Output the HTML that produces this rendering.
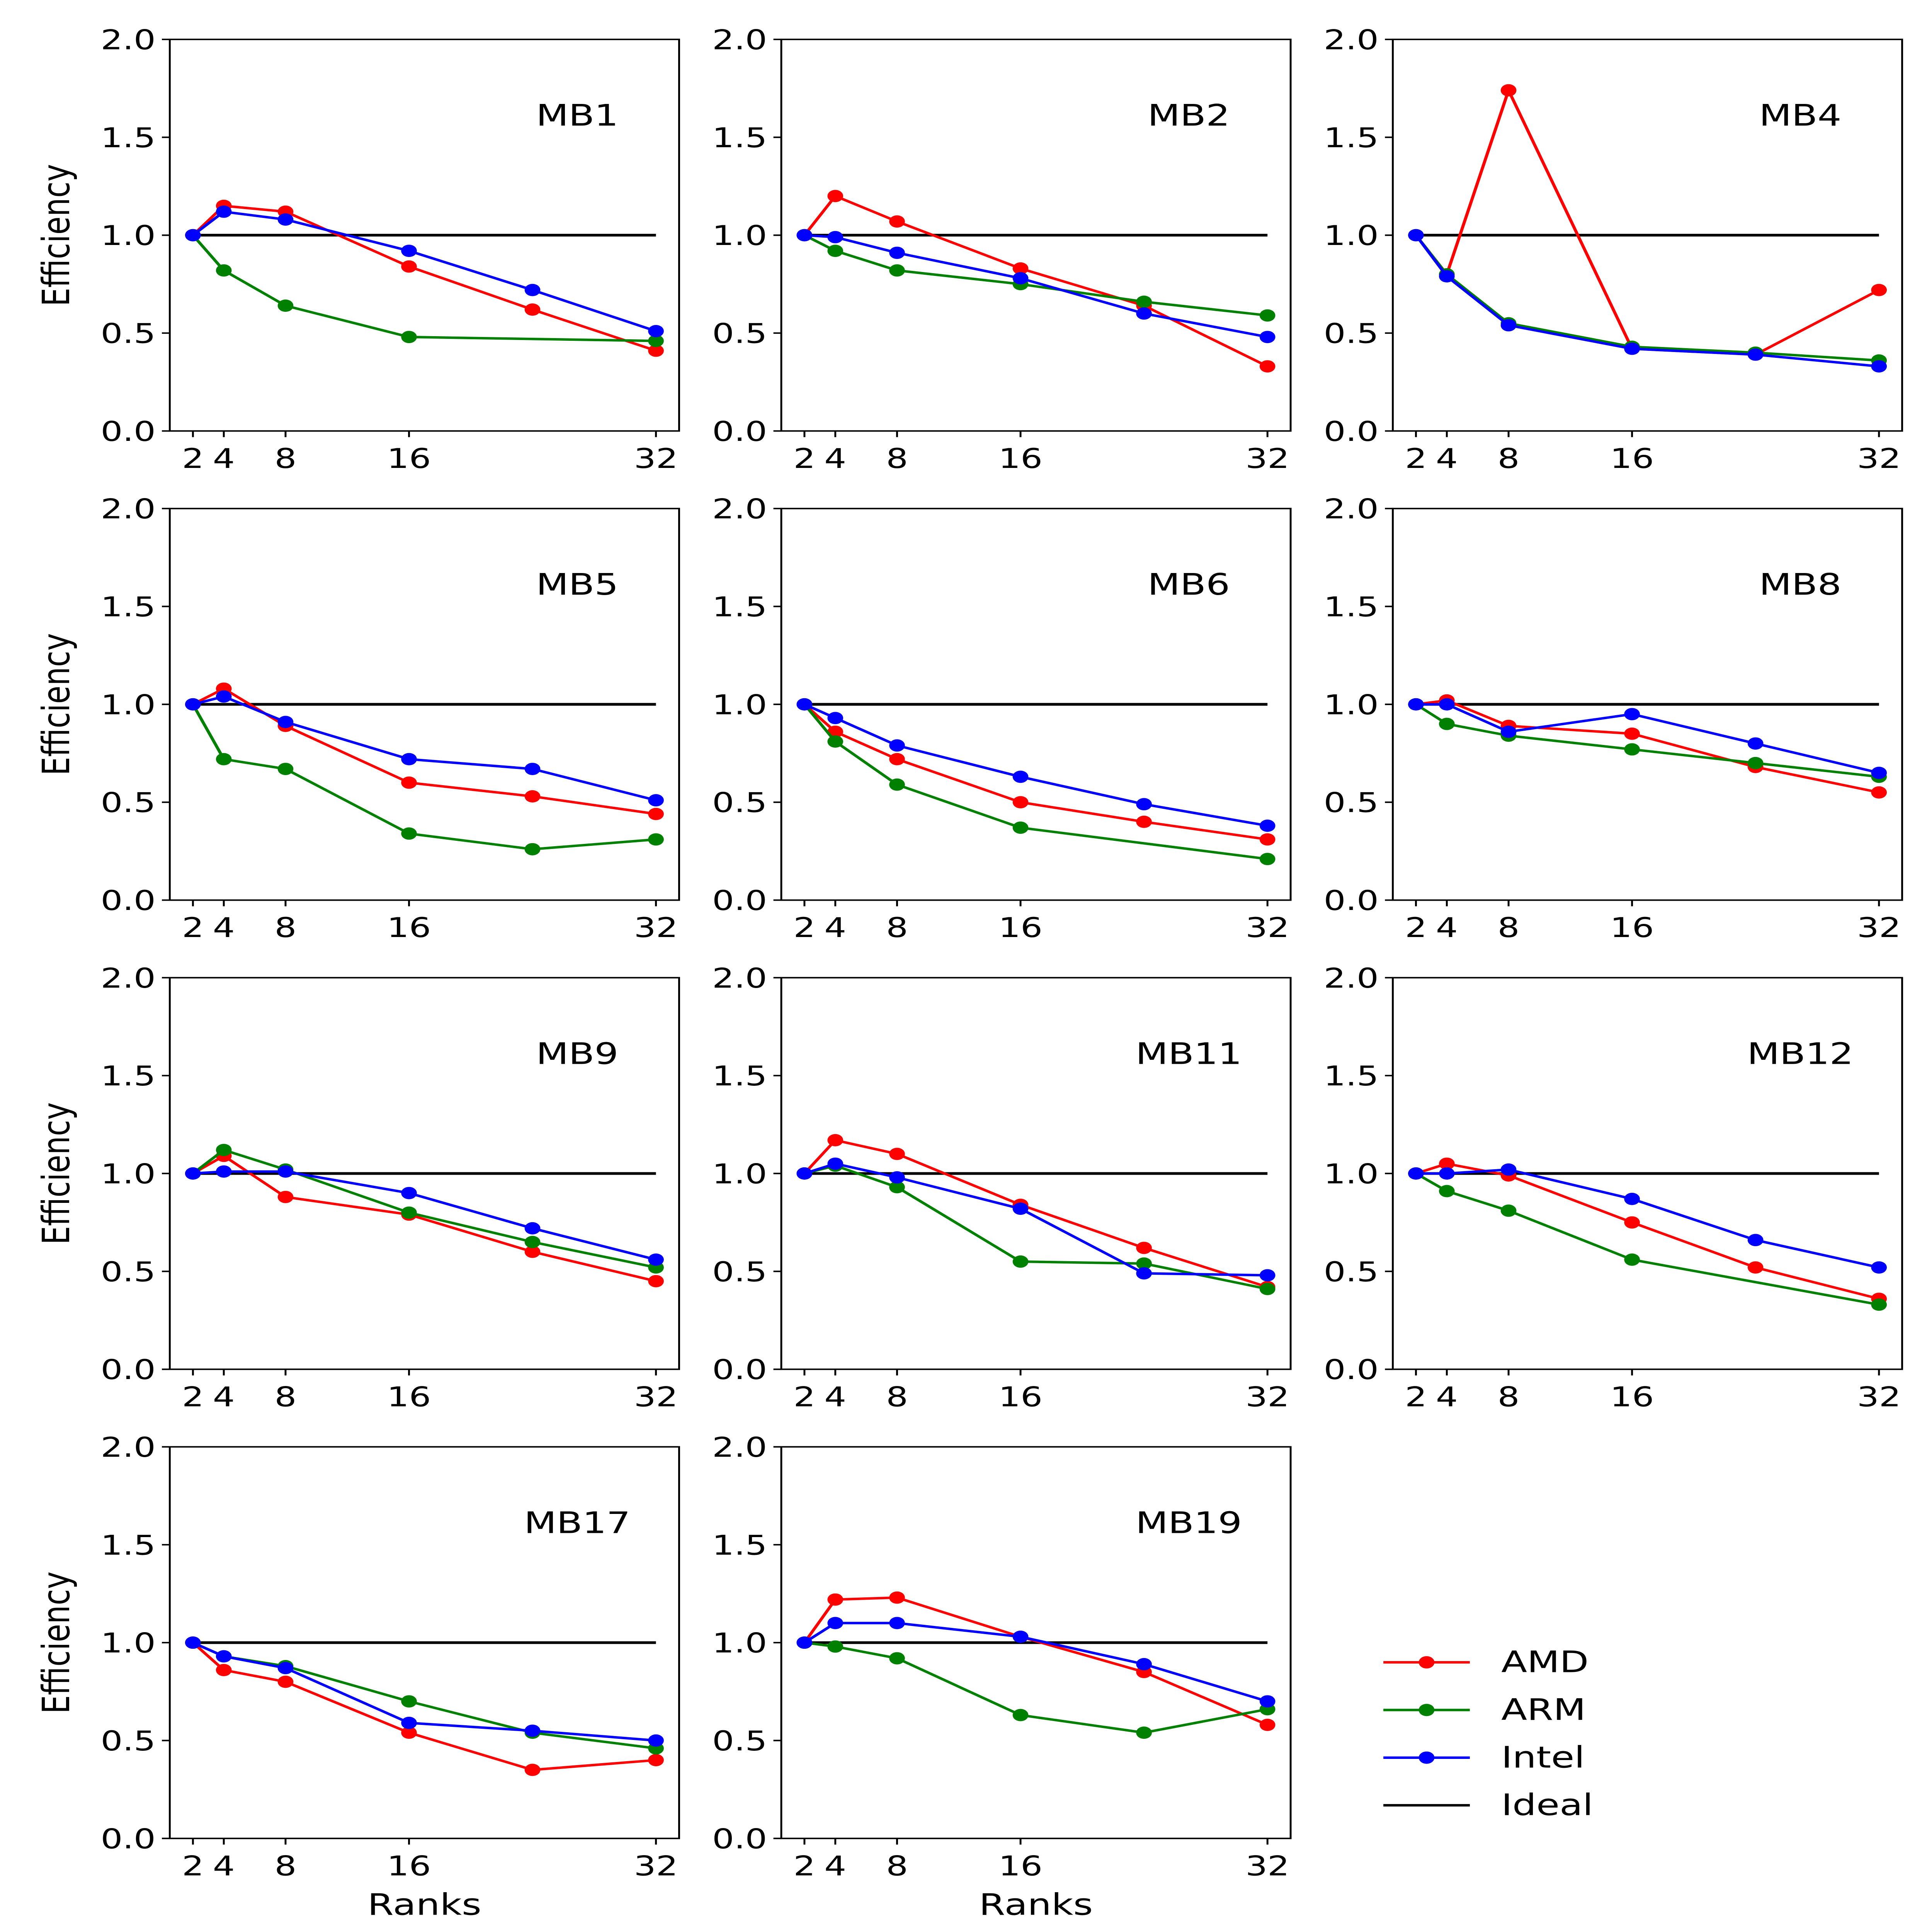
<!DOCTYPE html>
<html><head><meta charset="utf-8"><meta name="viewport" content="width=6225"><style>
html,body{margin:0;padding:0;background:#fff;width:100%;height:100%;overflow:hidden}
svg{display:block;position:fixed;left:0;top:0;width:100vw;height:100vh;font-family:"DejaVu Sans","Liberation Sans",sans-serif}
</style></head><body>
<svg id="fig" viewBox="0 0 1229 1569" preserveAspectRatio="none" xmlns="http://www.w3.org/2000/svg"></svg>
<script>
const ranks = [2,4,8,16,24,32];
const xTicks = [2,4,8,16,32];
const yTicks = [0,0.5,1.0,1.5,2.0];
const yTickLabels = ["0.0","0.5","1.0","1.5","2.0"];
const panelNames = ["MB1","MB2","MB4","MB5","MB6","MB8","MB9","MB11","MB12","MB17","MB19"];
const amd = [
 [1,1.15,1.12,0.84,0.62,0.41],[1,1.2,1.07,0.83,0.64,0.33],[1,0.8,1.74,0.42,0.39,0.72],
 [1,1.08,0.89,0.6,0.53,0.44],[1,0.86,0.72,0.5,0.4,0.31],[1,1.02,0.89,0.85,0.68,0.55],
 [1,1.09,0.88,0.79,0.6,0.45],[1,1.17,1.1,0.84,0.62,0.42],[1,1.05,0.99,0.75,0.52,0.36],
 [1,0.86,0.8,0.54,0.35,0.4],[1,1.22,1.23,1.03,0.85,0.58]];
const arm = [
 [1,0.82,0.64,0.48,null,0.46],[1,0.92,0.82,0.75,0.66,0.59],[1,0.8,0.55,0.43,0.4,0.36],
 [1,0.72,0.67,0.34,0.26,0.31],[1,0.81,0.59,0.37,null,0.21],[1,0.9,0.84,0.77,0.7,0.63],
 [1,1.12,1.02,0.8,0.65,0.52],[1,1.04,0.93,0.55,0.54,0.41],[1,0.91,0.81,0.56,null,0.33],
 [1,0.93,0.88,0.7,0.54,0.46],[1,0.98,0.92,0.63,0.54,0.66]];
const intel = [
 [1,1.12,1.08,0.92,0.72,0.51],[1,0.99,0.91,0.78,0.6,0.48],[1,0.79,0.54,0.42,0.39,0.33],
 [1,1.04,0.91,0.72,0.67,0.51],[1,0.93,0.79,0.63,0.49,0.38],[1,1.0,0.86,0.95,0.8,0.65],
 [1,1.01,1.01,0.9,0.72,0.56],[1,1.05,0.98,0.82,0.49,0.48],[1,1.0,1.02,0.87,0.66,0.52],
 [1,0.93,0.87,0.59,0.55,0.5],[1,1.1,1.1,1.03,0.89,0.7]];
const seriesNames = ["AMD","ARM","Intel"];
const seriesColors = ["#ff0000","#008000","#0000ff"];
const seriesData = [amd, arm, intel];

const NS="http://www.w3.org/2000/svg";
const svg=document.getElementById('fig');
function mk(tag,attrs,parent){const e=document.createElementNS(NS,tag);for(const k in attrs)e.setAttribute(k,attrs[k]);(parent||svg).appendChild(e);return e;}
const colX=[108,497,886], rowY=[32,413,794,1175], W=324, H=318;
panelNames.forEach((name,p)=>{
  const L=colX[p%3], T=rowY[Math.floor(p/3)];
  const sx=v=>L+(v-0.5)/33*W, sy=v=>T+H-v/2*H;
  const g=mk('g',{});
  
  
  yTicks.forEach((t,i)=>{
    const y=sy(t);
    mk('line',{x1:L-5,x2:L,y1:y,y2:y,stroke:'#000','stroke-width':1.2},g);
    const tx=mk('text',{x:L-9,y:y+8,'text-anchor':'end','font-size':22},g);
    tx.textContent=yTickLabels[i];
    
    
  });
  xTicks.forEach(t=>{
    const x=sx(t);
    mk('line',{x1:x,x2:x,y1:T+H,y2:T+H+5,stroke:'#000','stroke-width':1.2},g);
    const tx=mk('text',{x:x,y:T+H+30,'text-anchor':'middle','font-size':22},g);
    tx.textContent=String(t);
    
    
  });
  const ideal=mk('line',{x1:sx(2),x2:sx(32),y1:sy(1),y2:sy(1),stroke:'#000','stroke-width':2.2},g);
  
  
  seriesData.forEach((arr,s)=>{
    const vals=arr[p];
    const pts=[];ranks.forEach((r,i)=>{if(vals[i]!=null)pts.push([sx(r),sy(vals[i])]);});
    const pl=mk('polyline',{points:pts.map(q=>q.join(',')).join(' '),fill:'none',stroke:seriesColors[s],'stroke-width':2},g);
    
    
    pts.forEach(q=>{
      const c=mk('circle',{cx:q[0],cy:q[1],r:5,fill:seriesColors[s]},g);
      
      
    });
  });
  const fr=mk('rect',{x:L,y:T,width:W,height:H,fill:'none',stroke:'#000','stroke-width':1.2},g);
  
  
  const tt=mk('text',{x:L+W*0.8,y:T+70,'text-anchor':'middle','font-size':24},g);
  tt.textContent=name;
  
  
  if(p%3==0){
    const yl=mk('text',{x:0,y:0,'text-anchor':'middle','font-size':24,transform:`translate(44,${T+H/2}) rotate(-90)`},g);
    yl.textContent='Efficiency';
    
    
  }
  if(p>=9){
    const xl=mk('text',{x:L+W/2,y:1555,'text-anchor':'middle','font-size':24},g);
    xl.textContent='Ranks';
    
    
  }
});
const lg=mk('g',{});


const legNames=seriesNames.concat(['Ideal']), legCols=seriesColors.concat(['#000']);
legNames.forEach((n,i)=>{
  const y=1350+i*38.7;
  mk('line',{x1:880,x2:935,y1:y,y2:y,stroke:legCols[i],'stroke-width':2},lg);
  if(i<3) mk('circle',{cx:907.5,cy:y,r:5,fill:legCols[i]},lg);
  const t=mk('text',{x:955,y:y+8,'font-size':24},lg);
  t.textContent=n;
  
  
});
</script>
</body></html>
